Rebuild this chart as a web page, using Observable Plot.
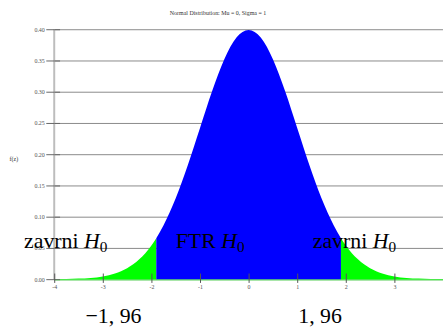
<!DOCTYPE html>
<html><head><meta charset="utf-8">
<script src="https://cdn.jsdelivr.net/npm/d3@7"></script>
<script src="https://cdn.jsdelivr.net/npm/@observablehq/plot@0.6"></script>
<style>html,body{margin:0;padding:0;overflow:hidden;background:#fff}</style>
</head><body><div id="chart"></div>
<script>
// values
const zValues = [-4, -3.75, -3.5, -3.25, -3, -2.75, -2.5, -2.25, -2, -1.9, -1.75, -1.5, -1.25, -1, -0.75, -0.5, -0.25, 0,
  0.25, 0.5, 0.75, 1, 1.25, 1.5, 1.75, 1.9, 2, 2.25, 2.5, 2.75, 3, 3.25, 3.5, 3.75, 4];
const density = [0.0001, 0.0004, 0.0009, 0.0020, 0.0044, 0.0091, 0.0175, 0.0317, 0.0540, 0.0656, 0.0863, 0.1295, 0.1826, 0.2420, 0.3011, 0.3521, 0.3867, 0.3989,
  0.3867, 0.3521, 0.3011, 0.2420, 0.1826, 0.1295, 0.0863, 0.0656, 0.0540, 0.0317, 0.0175, 0.0091, 0.0044, 0.0020, 0.0009, 0.0004, 0.0001];
const cutoff = 1.9;
const xTicks = [-4, -3, -2, -1, 0, 1, 2, 3];
const yTicks = [0, 0.05, 0.1, 0.15, 0.2, 0.25, 0.3, 0.35, 0.4];
const titleText = "Normal Distribution: Mu = 0, Sigma = 1";
const yLabel = "f(z)";
const regionLabels = [
  {word: "zavrni", z: -4.63, y: 0.05},
  {word: "FTR", z: -1.51, y: 0.05},
  {word: "zavrni", z: 1.31, y: 0.05}
];
const criticalLabels = [
  {text: "\u22121, 96", z: -2.79, y: -0.0687},
  {text: "1, 96", z: 1.46, y: -0.0687}
];

const pts = zValues.map((z, i) => ({z, f: density[i]}));
const center = pts.filter(d => d.z >= -cutoff && d.z <= cutoff);
const leftTail = pts.filter(d => d.z <= -cutoff);
const rightTail = pts.filter(d => d.z >= cutoff);

const serif = "'Liberation Serif', 'Times New Roman', serif";

const chart = Plot.plot({
  width: 447, height: 332,
  marginTop: 29.5, marginBottom: 50.3, marginLeft: 54.7, marginRight: 0,
  style: {fontFamily: serif, background: "#fff", overflow: "visible"},
  x: {domain: [-4, 4], axis: null},
  y: {domain: [0, 0.4], axis: null},
  marks: [
    Plot.ruleY(yTicks, {x1: -4, x2: 4, stroke: "#8a8a8a", strokeWidth: 1}),
    Plot.ruleY([0], {x1: -4, x2: 4, stroke: "#66e066", strokeWidth: 1.5}),
    Plot.areaY(leftTail, {x: "z", y: "f", fill: "#00ff00", curve: "monotone-x"}),
    Plot.areaY(rightTail, {x: "z", y: "f", fill: "#00ff00", curve: "monotone-x"}),
    Plot.areaY(center, {x: "z", y: "f", fill: "#0000ff", curve: "monotone-x"}),
    Plot.ruleX([-4], {y1: 0, y2: 0.4, stroke: "#bdbdbd", strokeWidth: 2, dx: -0.5}),
    Plot.axisY(yTicks, {tickSize: 8, tickPadding: 2, stroke: "#666", fill: "#555", fontSize: 6, tickFormat: d3.format(".2f"), label: null}),
    Plot.ruleY(yTicks, {x1: -4, x2: -3.88, stroke: "#666"}),
    Plot.ruleX(xTicks, {y1: -0.006, y2: 0.009, stroke: "#555"}),
    Plot.text(xTicks, {x: d => d, y: -0.0125, text: d => String(d), fontSize: 6, fill: "#555"}),
    Plot.text([titleText], {x: -0.64, y: 0.427, text: d => d, fontSize: 6, fill: "#333"}),
    Plot.text([yLabel], {x: -4.84, y: 0.193, text: d => d, fontSize: 6, fill: "#333"}),
    Plot.text(regionLabels, {x: "z", y: "y", text: "word", textAnchor: "start", lineAnchor: "bottom", fontSize: 22, fill: "#000", className: "region-label"}),
    Plot.text(criticalLabels, {x: "z", y: "y", text: "text", lineAnchor: "bottom", fontSize: 22, fill: "#000"})
  ]
});
document.getElementById("chart").appendChild(chart);

// add the math "H_0" to the region labels
d3.select(chart).selectAll(".region-label text").each(function() {
  const t = d3.select(this);
  const word = t.text();
  t.text(word + " ");
  t.append("tspan").attr("font-style", "italic").text("H");
  t.append("tspan").attr("font-size", "70%").attr("dy", "0.22em").text("0");
});
</script></body></html>
